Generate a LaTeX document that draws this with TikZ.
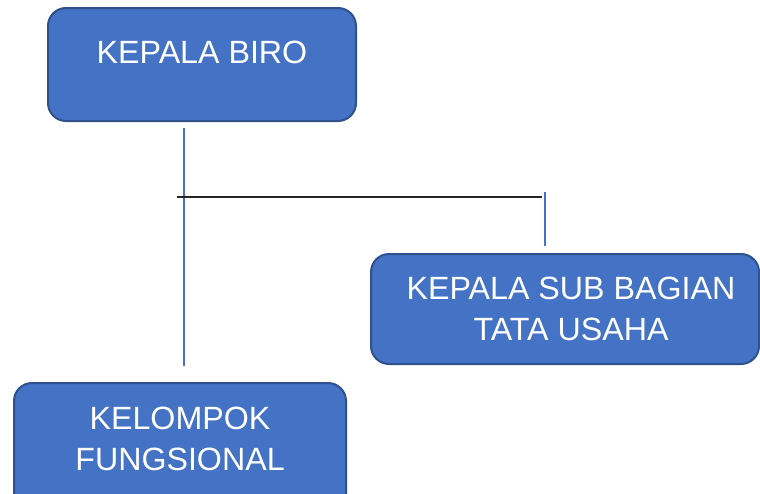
\documentclass[tikz,border=0pt]{standalone}
\usepackage{fontspec}
\setmainfont{Liberation Sans}
\definecolor{boxfill}{HTML}{4472C4}
\definecolor{boxline}{HTML}{2F528F}
\definecolor{linkblue}{HTML}{4472C4}
\definecolor{linkdark}{HTML}{262626}
\begin{document}
\begin{tikzpicture}[x=1pt,y=-1pt,
  orgbox/.style={draw=boxline,fill=boxfill,line width=2pt,rounded corners=18pt},
  orgtext/.style={text=white,align=center,font=\fontsize{32.2}{41}\selectfont,inner sep=0pt},
  bluelink/.style={draw=linkblue,line width=1.2pt},
  darklink/.style={draw=linkdark,line width=1.3pt}]
\useasboundingbox[fill=white] (0,0) rectangle (760,493);
% boxes
\draw[orgbox] (48,8) rectangle (356,121);
\node[orgtext] (biro) at (202,52) {KEPALA BIRO};
\draw[orgbox] (371,254) rectangle (759,364);
\node[orgtext] (sub) at (571,309) {KEPALA SUB BAGIAN\\TATA USAHA};
\draw[orgbox] (14,383) rectangle (346,520);
\node[orgtext] (fung) at (180,439) {KELOMPOK\\FUNGSIONAL};
% connectors
\coordinate (v1top) at (184,128);
\coordinate (v1bot) at (184,366);
\coordinate (hleft) at (177,197);
\coordinate (hright) at (542,197);
\coordinate (v2top) at (545,192);
\coordinate (v2bot) at (545,246);
\draw[bluelink] (v1top) -- (v1bot);
\draw[darklink] (hleft) -- (hright);
\draw[bluelink] (v2top) -- (v2bot);
\end{tikzpicture}
\end{document}
